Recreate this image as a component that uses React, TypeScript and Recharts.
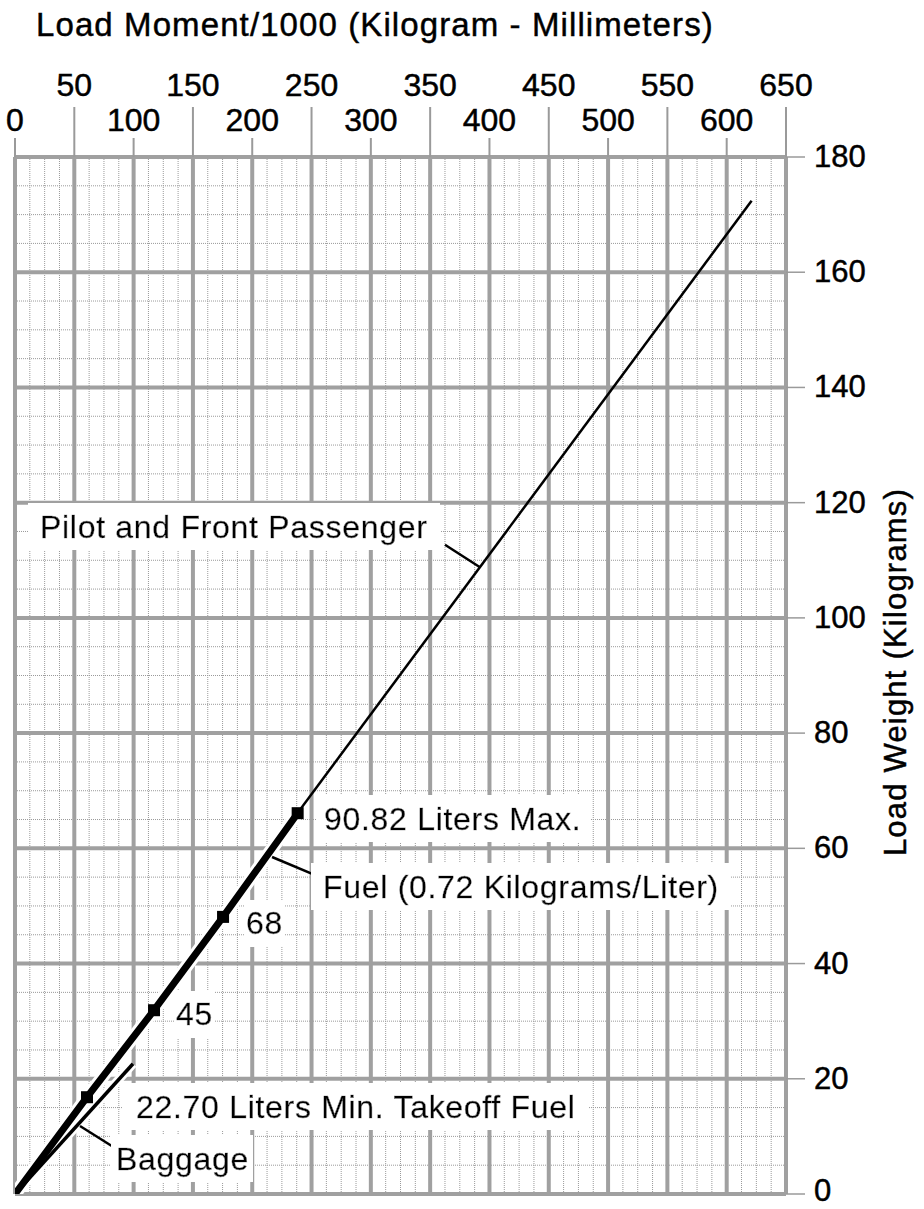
import React from 'react';
import {
  ComposedChart,
  Line,
  XAxis,
  YAxis,
  CartesianGrid,
  ReferenceLine,
  ReferenceDot,
} from 'recharts';

// ---- axis ticks ----
const momentTicks = [0, 50, 100, 150, 200, 250, 300, 350, 400, 450, 500, 550, 600, 650];
const weightTicks = [0, 20, 40, 60, 80, 100, 120, 140, 160, 180];
const momentMinorStep = 12.5;
const weightMinorStep = 5;

// ---- series (moment/1000 kg-mm vs weight kg) ----
const pilotMoment = [0, 621];
const pilotWeight = [0, 172.4];

const fuelMoment = [0, 60.7, 117.2, 175.4, 238.3];
const fuelWeight = [0, 16.8, 31.9, 48.1, 66.1];
const fuelLiters = ['', '22.70', '45', '68', '90.82'];

const baggageMoment = [0, 99.5];
const baggageWeight = [0, 22.6];

// ---- annotation texts (anchor in data units, start-aligned baseline) ----
const annotationTexts = [
  'Pilot and Front Passenger',
  '90.82 Liters Max.',
  'Fuel (0.72 Kilograms/Liter)',
  '68',
  '45',
  '22.70 Liters Min. Takeoff Fuel',
  'Baggage',
];
const annotationMoment = [21.1, 260.5, 259.7, 194.7, 135.7, 102, 85.1];
const annotationWeight = [113.9, 63.2, 51.4, 45.1, 29.3, 13.2, 4.2];

// leader lines [fromMoment, fromWeight, toMoment, toWeight]
const leaderPilot = [362.5, 112.7, 392, 108.8];
const leaderFuel = [216.7, 58.5, 257.1, 55.0];
const leaderBaggage = [54.8, 11.8, 82.6, 8.2];

const W = 924;
const H = 1209;
const X_AXIS_H = 157;
const Y_AXIS_W = 138;
const PLOT_TOP = X_AXIS_H;
const PLOT_RIGHT = W - Y_AXIS_W;
const FONT = "'Liberation Sans', Arial, Helvetica, sans-serif";
const TXT = { fontFamily: FONT, fill: '#000', stroke: '#000', strokeWidth: 0.45 } as const;

const range = (max: number, step: number) => {
  const out: number[] = [];
  for (let v = 0; v <= max + 1e-9; v += step) out.push(v);
  return out;
};
const xMinor = range(650, momentMinorStep);
const yMinor = range(180, weightMinorStep);

const zip = (a: number[], b: number[]) => a.map((m, i) => ({ m, w: b[i] }));
const pilotData = zip(pilotMoment, pilotWeight);
const fuelData = fuelMoment.map((m, i) => ({ m, w: fuelWeight[i], l: fuelLiters[i] }));
const baggageData = zip(baggageMoment, baggageWeight);

const XTick = (props: any) => {
  const { x, payload } = props;
  const v = payload.value as number;
  const upper = Math.round(v / 50) % 2 === 1;
  return (
    <g>
      <line x1={x} x2={x} y1={PLOT_TOP} y2={upper ? 107 : 138} stroke="#9a9a9a" strokeWidth={2} />
      <text x={x} y={upper ? 96 : 131} textAnchor="middle" fontSize={32} {...TXT}>
        {v}
      </text>
    </g>
  );
};

const YTick = (props: any) => {
  const { y, payload } = props;
  return (
    <g>
      <line x1={PLOT_RIGHT} x2={PLOT_RIGHT + 19} y1={y} y2={y} stroke="#9a9a9a" strokeWidth={1.5} />
      <text x={PLOT_RIGHT + 28} y={Math.min(y + 10, H - 8)} textAnchor="start" fontSize={31} {...TXT}>
        {payload.value}
      </text>
    </g>
  );
};

const FuelDot = (p: any) => {
  if (p.index === 0) return <g key={`fd${p.index}`} />;
  return <rect key={`fd${p.index}`} x={p.cx - 6} y={p.cy - 6} width={12} height={12} fill="#000" />;
};

const makeLabelShape = (text: string, withDefs: boolean) => (p: any) => (
  <g>
    {withDefs && (
      <defs>
        <filter id="txtbg" x="-0.03" y="-0.14" width="1.06" height="1.28">
          <feFlood floodColor="#ffffff" />
          <feComposite in="SourceGraphic" operator="over" />
        </filter>
      </defs>
    )}
    <text x={p.cx} y={p.cy} fontSize={32} letterSpacing={0.7} {...TXT} filter="url(#txtbg)">
      {text}
    </text>
  </g>
);

const leaderSeg = (l: number[]) => [
  { x: l[0], y: l[1] },
  { x: l[2], y: l[3] },
];

const lineCommon = {
  type: 'linear' as const,
  dataKey: 'w',
  dot: false,
  activeDot: false,
  isAnimationActive: false,
};

export default function App() {
  return (
    <div style={{ position: 'absolute', left: 0, top: 0, width: W, height: H, background: '#fff' }}>
      <ComposedChart width={W} height={H} margin={{ top: 0, right: 0, bottom: 15, left: 15 }}>
        <CartesianGrid
          verticalValues={xMinor}
          horizontalValues={yMinor}
          stroke="#9a9a9a"
          strokeWidth={1}
          strokeDasharray="1 1"
        />
        <CartesianGrid
          verticalValues={momentTicks}
          horizontalValues={weightTicks}
          stroke="#a0a0a0"
          strokeWidth={4}
        />
        <XAxis
          xAxisId={0}
          type="number"
          dataKey="m"
          domain={[0, 650]}
          ticks={momentTicks}
          interval={0}
          orientation="top"
          height={X_AXIS_H}
          axisLine={false}
          tickLine={false}
          tick={<XTick />}
          allowDataOverflow
        />
        <YAxis
          yAxisId={0}
          type="number"
          domain={[0, 180]}
          ticks={weightTicks}
          interval={0}
          orientation="right"
          width={Y_AXIS_W}
          axisLine={false}
          tickLine={false}
          tick={<YTick />}
          allowDataOverflow
        />
        <Line {...lineCommon} data={pilotData} stroke="#000" strokeWidth={2.5} />
        <Line {...lineCommon} data={fuelData} stroke="#fff" strokeWidth={13} />
        <Line {...lineCommon} data={baggageData} stroke="#fff" strokeWidth={9} />
        <Line {...lineCommon} data={fuelData} stroke="#000" strokeWidth={7} dot={FuelDot} />
        <Line {...lineCommon} data={baggageData} stroke="#000" strokeWidth={3.5} />
        <ReferenceLine segment={leaderSeg(leaderPilot)} stroke="#000" strokeWidth={2.5} ifOverflow="visible" />
        <ReferenceLine segment={leaderSeg(leaderFuel)} stroke="#000" strokeWidth={2.5} ifOverflow="visible" />
        <ReferenceLine segment={leaderSeg(leaderBaggage)} stroke="#000" strokeWidth={2.5} ifOverflow="visible" />
        {annotationTexts.map((t, i) => (
          <ReferenceDot
            key={t}
            x={annotationMoment[i]}
            y={annotationWeight[i]}
            r={0}
            ifOverflow="visible"
            shape={makeLabelShape(t, i === 0)}
          />
        ))}
      </ComposedChart>
      <svg
        width={W}
        height={H}
        style={{ position: 'absolute', left: 0, top: 0, pointerEvents: 'none' }}
      >
        <text x={36} y={36} fontSize={33} letterSpacing={1.1} {...TXT}>
          Load Moment/1000 (Kilogram - Millimeters)
        </text>
        <text
          x={906}
          y={672}
          transform="rotate(-90, 906, 672)"
          textAnchor="middle"
          fontSize={31}
          letterSpacing={1.2}
          {...TXT}
        >
          Load Weight (Kilograms)
        </text>
      </svg>
    </div>
  );
}
